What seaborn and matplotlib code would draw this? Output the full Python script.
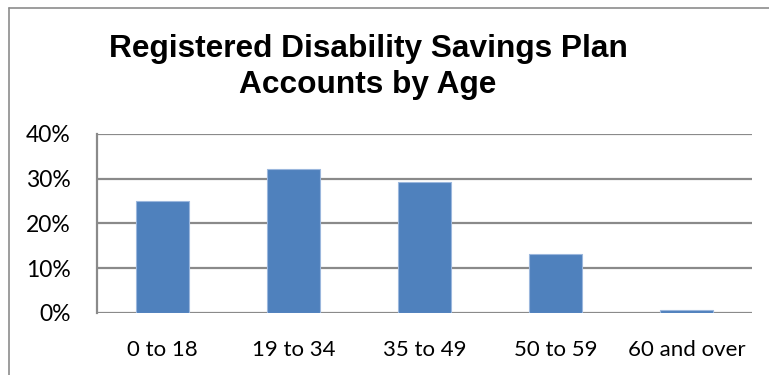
import matplotlib
matplotlib.use("Agg")
import matplotlib.pyplot as plt
from matplotlib.lines import Line2D
import seaborn as sns
import pandas as pd

# Share of RDSP accounts by age group (percent)
age_groups = ["0 to 18", "19 to 34", "35 to 49", "50 to 59", "60 and over"]
share_pct = [25.0, 32.1, 29.3, 13.2, 0.6]
y_ticks = [0, 10, 20, 30, 40]
y_tick_labels = ["0%", "10%", "20%", "30%", "40%"]
title_lines = ["Registered Disability Savings Plan", "Accounts by Age"]

df = pd.DataFrame({"age": age_groups, "share": share_pct})

sns.set_theme(style="white")
plt.rcParams["font.family"] = ["Lato", "DejaVu Sans"]
plt.rcParams["text.color"] = "black"

W, H = 769, 375
fig = plt.figure(figsize=(W / 100, H / 100), dpi=100)
ax = fig.add_axes([97 / W, 1 - 312.7 / H, (752 - 97) / W, (312.7 - 134) / H])

grid_color = "#8a8a8a"
ax.set_ylim(0, 40)
ax.set_yticks(y_ticks)
for v in y_ticks:
    ax.axhline(v, color=grid_color, lw=1.6, zorder=0)

sns.barplot(data=df, x="age", y="share", ax=ax, color="#4f81bd",
            width=0.4, saturation=1, edgecolor="#9bb7dd", linewidth=0.8,
            zorder=2)

ax.set_xlim(-0.5, len(age_groups) - 0.5)
ax.set_yticklabels(y_tick_labels, fontsize=16.5, color="black")
ax.tick_params(axis="x", labelsize=16, colors="black", pad=20, length=0)
ax.tick_params(axis="y", pad=19, length=0)
ax.set_xlabel("")
ax.set_ylabel("")
for side in ["top", "right", "bottom"]:
    ax.spines[side].set_visible(False)
ax.spines["left"].set_color(grid_color)
ax.spines["left"].set_linewidth(1.6)

# Chart title, two bold lines
title_font = dict(ha="center", va="baseline", fontsize=22.8, fontweight="bold",
                  color="black", family=["Liberation Sans", "DejaVu Sans"])
fig.text(368 / W, 1 - 57 / H, title_lines[0], **title_font)
fig.text(368 / W, 1 - 93 / H, title_lines[1], **title_font)

# Outer chart frame (left and top edges)
fig.add_artist(Line2D([8.5 / W, 8.5 / W], [0, 1 - 7.5 / H], transform=fig.transFigure,
                      color="#8c8c8c", lw=1.2))
fig.add_artist(Line2D([8.5 / W, 1], [1 - 7.5 / H, 1 - 7.5 / H], transform=fig.transFigure,
                      color="#8c8c8c", lw=1.2))

fig.savefig("out.png", dpi=100)
